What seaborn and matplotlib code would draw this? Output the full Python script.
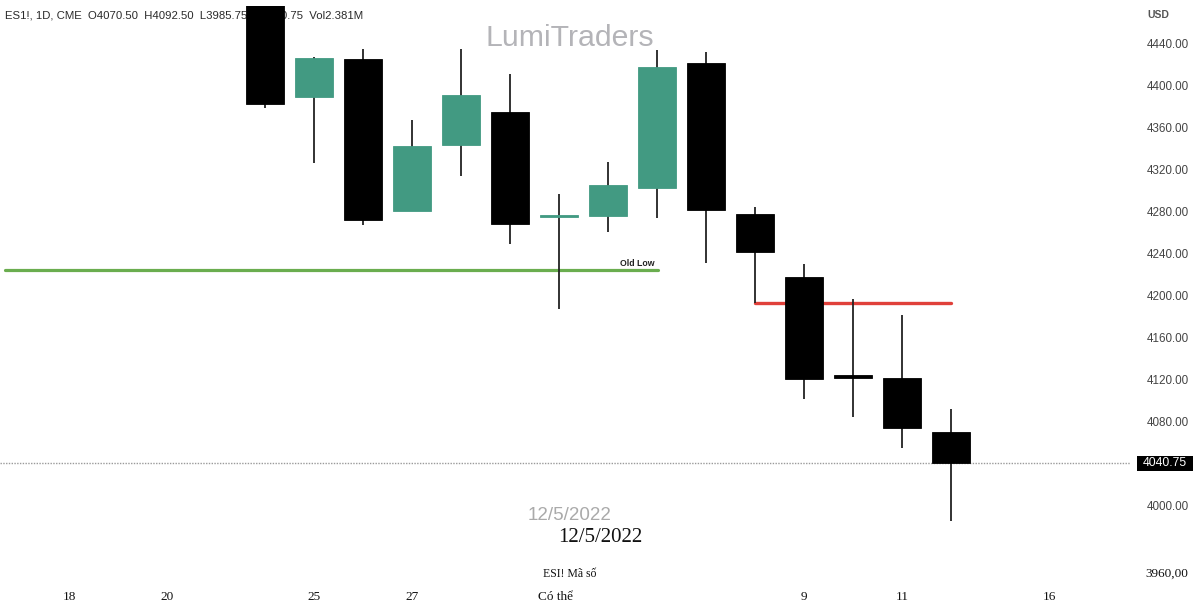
import matplotlib
matplotlib.use("Agg")
import matplotlib.pyplot as plt
import matplotlib.transforms as mtransforms
from matplotlib.patches import Rectangle
import numpy as np
import pandas as pd
import seaborn as sns

# Daily ES1! candles (index 0 = first visible session)
day_index = list(range(15))
opens = [4485.0, 4390.0, 4426.0, 4281.0, 4344.0, 4375.0, 4275.0, 4276.0, 4303.0,
         4422.0, 4278.0, 4218.0, 4124.5, 4122.0, 4070.50]
highs = [4495.0, 4428.0, 4435.0, 4368.0, 4435.0, 4411.0, 4297.0, 4328.0, 4434.0,
         4432.0, 4285.0, 4230.5, 4197.0, 4182.0, 4092.50]
lows = [4379.0, 4327.0, 4268.0, 4281.0, 4314.0, 4250.0, 4188.0, 4261.0, 4274.0,
        4231.0, 4193.0, 4102.0, 4085.0, 4055.0, 3985.75]
closes = [4383.0, 4427.0, 4272.0, 4343.0, 4391.0, 4269.0, 4277.5, 4306.0, 4418.0,
          4282.0, 4242.0, 4121.0, 4122.0, 4074.0, 4040.75]

# Key levels
old_low_price = 4224.5
old_low_span = [-5.31, 8.02]
breakdown_price = 4193.0
breakdown_span = [10, 14]
last_price = 4040.75

# Axis labels
price_ticks = [4000, 4080, 4120, 4160, 4200, 4240, 4280, 4320, 4360, 4400, 4440]
date_tick_pos = [-4, -2, 1, 3, 5.92, 11, 13, 16]
date_tick_labels = ["18", "20", "25", "27", "Có thể", "9", "11", "16"]

header = "ES1!, 1D, CME  O4070.50  H4092.50  L3985.75  C4040.75  Vol2.381M"

sns.set_theme(style="white")
plt.rcParams["font.family"] = ["Liberation Sans", "DejaVu Sans"]

W, H = 1197, 605
fig = plt.figure(figsize=(W / 100, H / 100), dpi=100)
fig.patch.set_facecolor("white")
ax = fig.add_axes([0, 20 / H, 1130 / W, 579 / H])
ax.set_facecolor("white")
for s in ax.spines.values():
    s.set_visible(False)

ax.set_xlim(-265 / 49, (1130 - 265) / 49)
ax.set_ylim(4440 - (585 - 44) / 1.05, 4440 + (44 - 6) / 1.05)

UP = "#429a82"
DOWN = "#000000"

df = pd.DataFrame({"i": day_index, "o": opens, "h": highs, "l": lows, "c": closes})
df["bottom"] = df[["o", "c"]].min(axis=1)
df["height"] = (df["c"] - df["o"]).abs()
df["color"] = np.where(df["c"] >= df["o"], UP, DOWN)

# wicks
ax.vlines(df["i"], df["l"], df["h"], colors="#222222", linewidth=1.3, zorder=3)
# bodies
ax.bar(df["i"], df["height"], bottom=df["bottom"], width=0.78,
       color=df["color"], edgecolor=df["color"], linewidth=0.6, zorder=4)

# level lines
lv_old = pd.DataFrame({"x": old_low_span, "y": [old_low_price] * 2})
sns.lineplot(data=lv_old, x="x", y="y", ax=ax, color="#6aad4f", linewidth=2.3,
             zorder=2, legend=False)
lv_brk = pd.DataFrame({"x": breakdown_span, "y": [breakdown_price] * 2})
sns.lineplot(data=lv_brk, x="x", y="y", ax=ax, color="#e0403a", linewidth=2.4,
             zorder=2, legend=False)
ax.text(7.95, old_low_price + 6.5, "Old Low", ha="right", va="center",
        fontsize=6.3, fontweight="bold", color="#222222", zorder=5)

# last price line
ax.axhline(last_price, color="#9a9a9a", linestyle=(0, (1, 1)), linewidth=1.0, zorder=1)

ax.set_xlabel("")
ax.set_ylabel("")

# right-hand price scale
ax.yaxis.tick_right()
ax.set_yticks(price_ticks)
ax.set_yticklabels([f"{p:.2f}" for p in price_ticks])
ax.tick_params(axis="y", length=0, pad=12.2, labelsize=8.4, labelcolor="#454545")

# bottom date labels
ax.set_xticks(date_tick_pos)
ax.set_xticklabels(date_tick_labels, fontfamily=["Liberation Serif", "DejaVu Serif"])
ax.tick_params(axis="x", length=0, pad=4, labelsize=9.5, labelcolor="#111111")

# last price tag on the scale
blend = mtransforms.blended_transform_factory(ax.transAxes, ax.transData)
ax.add_patch(Rectangle((1.0 + 7 / 1130, last_price - 7.4), 56 / 1130, 14.6,
                       transform=blend, facecolor="black", edgecolor="none",
                       clip_on=False, zorder=6))
ax.text(1.0 + 35 / 1130, last_price, "4040.75", transform=blend, ha="center",
        va="center", fontsize=8.8, color="white", clip_on=False, zorder=7)

# header, watermark and overlays
fig.text(5 / W, 1 - 15 / H, header, ha="left", va="center", fontsize=8.2,
         color="#2a2a2a", zorder=0)
fig.text(1147 / W, 1 - 15 / H, "USD", ha="left", va="center", fontsize=7.5,
         fontweight="bold", color="#555555")
ax.text(570 / 1130, 1 - (38 - 6) / 579, "LumiTraders", transform=ax.transAxes,
        ha="center", va="center", fontsize=21.8, color="#b4b4b8", zorder=0)
fig.text(570 / W, 1 - 515 / H, "12/5/2022", ha="center", va="center",
         fontsize=13.5, color="#aaaaaa")
fig.text(600 / W, 1 - 537 / H, "12/5/2022", ha="center", va="center",
         fontsize=15, color="#111111", family=["Liberation Serif", "DejaVu Serif"])
fig.text(570 / W, 1 - 574 / H, "ESI! Mã số", ha="center", va="center",
         fontsize=8.5, color="#111111", family=["Liberation Serif", "DejaVu Serif"])
fig.text(1188 / W, 1 - 574 / H, "3960,00", ha="right", va="center",
         fontsize=9.5, color="#111111", family=["Liberation Serif", "DejaVu Serif"])

# candle 0 body overlaps the header text
ax.set_zorder(1)
ax.patch.set_visible(False)

fig.savefig("out.png", dpi=100, facecolor="white")
